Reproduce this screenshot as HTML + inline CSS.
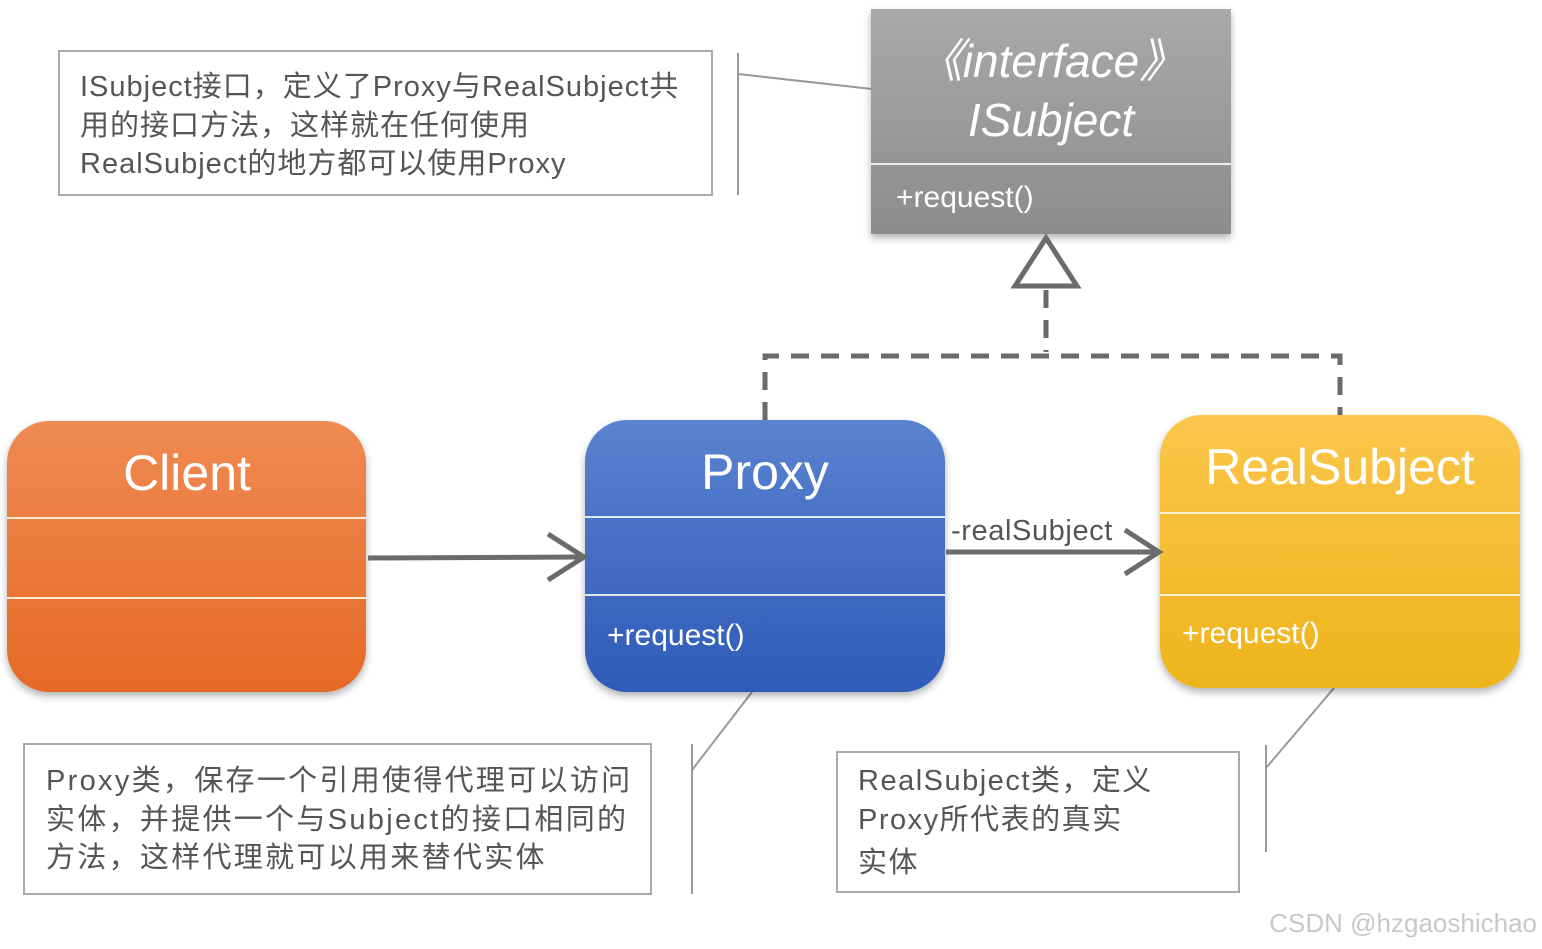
<!DOCTYPE html>
<html><head><meta charset="utf-8"><style>
html,body{margin:0;padding:0;background:#fff;}
svg{display:block;}
text{font-family:"Liberation Sans","Noto Sans CJK SC",sans-serif;}
.n{letter-spacing:1.5px;}
</style></head><body>
<svg width="1542" height="949" viewBox="0 0 1542 949" xmlns="http://www.w3.org/2000/svg">
<defs>
<linearGradient id="go" x1="0" y1="0" x2="0" y2="1"><stop offset="0" stop-color="#ef8a52"/><stop offset="1" stop-color="#e56a26"/></linearGradient>
<linearGradient id="gb" x1="0" y1="0" x2="0" y2="1"><stop offset="0" stop-color="#5a82cf"/><stop offset="1" stop-color="#2e5bb8"/></linearGradient>
<linearGradient id="gy" x1="0" y1="0" x2="0" y2="1"><stop offset="0" stop-color="#fbc64a"/><stop offset="1" stop-color="#eeb41c"/></linearGradient>
<linearGradient id="gg" x1="0" y1="0" x2="0" y2="1"><stop offset="0" stop-color="#a9a9a9"/><stop offset="1" stop-color="#8c8c8c"/></linearGradient>
<filter id="sh" x="-10%" y="-10%" width="120%" height="130%"><feDropShadow dx="0" dy="4" stdDeviation="4" flood-color="#000" flood-opacity="0.3"/></filter>
</defs>

<rect x="59" y="51" width="653" height="144" fill="#fff" stroke="#aaa" stroke-width="2"/>
<text x="80" y="96" font-size="29" fill="#555" style="letter-spacing:1px">ISubject接口，定义了Proxy与RealSubject共</text>
<text x="80" y="135" font-size="29" fill="#555" style="letter-spacing:1px">用的接口方法，这样就在任何使用</text>
<text x="80" y="173" font-size="29" fill="#555" style="letter-spacing:1px">RealSubject的地方都可以使用Proxy</text>
<line x1="738" y1="53" x2="738" y2="195" stroke="#999" stroke-width="2"/>
<line x1="738" y1="74" x2="872" y2="89" stroke="#999" stroke-width="2"/>

<rect x="24" y="744" width="627" height="150" fill="#fff" stroke="#aaa" stroke-width="2"/>
<text x="46" y="790" font-size="29" fill="#555" style="letter-spacing:2.3px">Proxy类，保存一个引用使得代理可以访问</text>
<text x="46" y="829" font-size="29" fill="#555" style="letter-spacing:2.3px">实体，并提供一个与Subject的接口相同的</text>
<text x="46" y="867" font-size="29" fill="#555" style="letter-spacing:2.3px">方法，这样代理就可以用来替代实体</text>
<line x1="692" y1="744" x2="692" y2="894" stroke="#999" stroke-width="2"/>
<line x1="692" y1="770" x2="752" y2="692" stroke="#999" stroke-width="2"/>

<rect x="837" y="752" width="402" height="140" fill="#fff" stroke="#aaa" stroke-width="2"/>
<text class="n" x="858" y="790" font-size="29" fill="#555">RealSubject类，定义</text>
<text class="n" x="858" y="829" font-size="29" fill="#555">Proxy所代表的真实</text>
<text class="n" x="858" y="872" font-size="29" fill="#555">实体</text>
<line x1="1266" y1="745" x2="1266" y2="852" stroke="#999" stroke-width="2"/>
<line x1="1266" y1="768" x2="1334" y2="688" stroke="#999" stroke-width="2"/>

<rect x="871" y="9" width="360" height="225" fill="url(#gg)" filter="url(#sh)"/>
<line x1="871" y1="164" x2="1231" y2="164" stroke="#eee" stroke-width="2"/>
<text x="1051" y="77" font-size="46" font-style="italic" fill="#fff" text-anchor="middle">《interface》</text>
<text x="1051" y="136" font-size="46" font-style="italic" fill="#fff" text-anchor="middle">ISubject</text>
<text x="896" y="207" font-size="30" fill="#fff">+request()</text>

<polygon points="1046,238 1015,286 1077,286" fill="#fff" stroke="#6b6b6b" stroke-width="5"/>
<path d="M1046 290 V352 M765 420 V356 H1340 V415" fill="none" stroke="#6b6b6b" stroke-width="5" stroke-dasharray="18,12"/>

<rect x="7" y="421" width="359" height="271" rx="42" fill="url(#go)" filter="url(#sh)"/>
<line x1="7" y1="518" x2="366" y2="518" stroke="#fbe9d8" stroke-width="2"/>
<line x1="7" y1="598" x2="366" y2="598" stroke="#fbe9d8" stroke-width="2"/>
<text x="187" y="490" font-size="50" fill="#fff" text-anchor="middle">Client</text>

<rect x="585" y="420" width="360" height="272" rx="42" fill="url(#gb)" filter="url(#sh)"/>
<line x1="585" y1="517" x2="945" y2="517" stroke="#dfe7f6" stroke-width="2"/>
<line x1="585" y1="595" x2="945" y2="595" stroke="#dfe7f6" stroke-width="2"/>
<text x="765" y="489" font-size="50" fill="#fff" text-anchor="middle">Proxy</text>
<text x="607" y="645" font-size="30" fill="#fff">+request()</text>

<rect x="1160" y="415" width="360" height="273" rx="42" fill="url(#gy)" filter="url(#sh)"/>
<line x1="1160" y1="513" x2="1520" y2="513" stroke="#fdf0cc" stroke-width="2"/>
<line x1="1160" y1="595" x2="1520" y2="595" stroke="#fdf0cc" stroke-width="2"/>
<text x="1340" y="484" font-size="50" fill="#fff" text-anchor="middle">RealSubject</text>
<text x="1182" y="643" font-size="30" fill="#fff">+request()</text>

<line x1="368" y1="558" x2="584" y2="557" stroke="#6b6b6b" stroke-width="5"/>
<polyline points="548,534 584,557 548,580" fill="none" stroke="#6b6b6b" stroke-width="5"/>
<line x1="946" y1="552" x2="1159" y2="552" stroke="#6b6b6b" stroke-width="5"/>
<polyline points="1125,530 1159,552 1125,574" fill="none" stroke="#6b6b6b" stroke-width="5"/>
<text x="951" y="540" font-size="29" fill="#555" style="letter-spacing:0.6px">-realSubject</text>

<text x="1537" y="932" font-size="26" fill="#c8c8c8" text-anchor="end">CSDN @hzgaoshichao</text>
</svg>
</body></html>
